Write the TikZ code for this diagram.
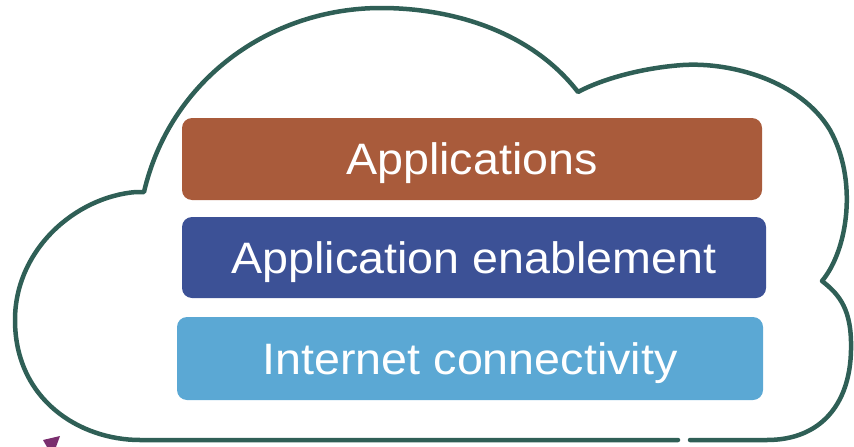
\documentclass[tikz,border=0pt]{standalone}
\usepackage{fontspec}
\newfontfamily\lblfont[FakeStretch=1.06]{Liberation Sans}
\definecolor{cloudline}{HTML}{2F5F56}
\definecolor{appcol}{HTML}{A95B3B}
\definecolor{enabcol}{HTML}{3C5196}
\definecolor{netcol}{HTML}{5BA8D4}
\definecolor{markcol}{HTML}{7A2E6E}
\tikzset{
  layerbox/.style={rounded corners=10pt, inner sep=0pt, text=white,
    font=\lblfont\fontsize{44}{50}\selectfont, text height=31.5pt, text depth=0pt},
  cloudstroke/.style={draw=cloudline, line width=4.5pt, line cap=round, line join=round}
}
\begin{document}
\begin{tikzpicture}[x=1pt, y=-1pt]
\useasboundingbox (0,0) rectangle (854,447);
% cloud outline
\draw[cloudstroke] (690,440) -- (767,440)
  .. controls (820,440) and (850,405) .. (851,350)
  .. controls (852,310) and (840,295) .. (822,281)
  .. controls (848,250) and (858,180) .. (830,130)
  .. controls (800,80) and (730,62) .. (683,65)
  .. controls (640,68) and (600,80) .. (578,92)
  .. controls (530,30) and (450,8) .. (381,8)
  .. controls (270,8) and (170,80) .. (144,192)
  -- (136,192)
  .. controls (75,197) and (15,250) .. (15,320)
  .. controls (15,400) and (80,440) .. (140,440)
  -- (678,440);
% small purple mark
\fill[markcol] (43,440) -- (60,436) -- (56,447) -- (47,447) -- cycle;
% layers
\node[layerbox, fill=appcol, minimum width=580pt, minimum height=82pt] (apps) at (472,159) {Applications};
\node[layerbox, fill=enabcol, minimum width=584pt, minimum height=81pt] (enab) at (474,257.5) {Application enablement};
\node[layerbox, fill=netcol, minimum width=586pt, minimum height=83pt] (net) at (470,358.5) {Internet connectivity};
\end{tikzpicture}
\end{document}
